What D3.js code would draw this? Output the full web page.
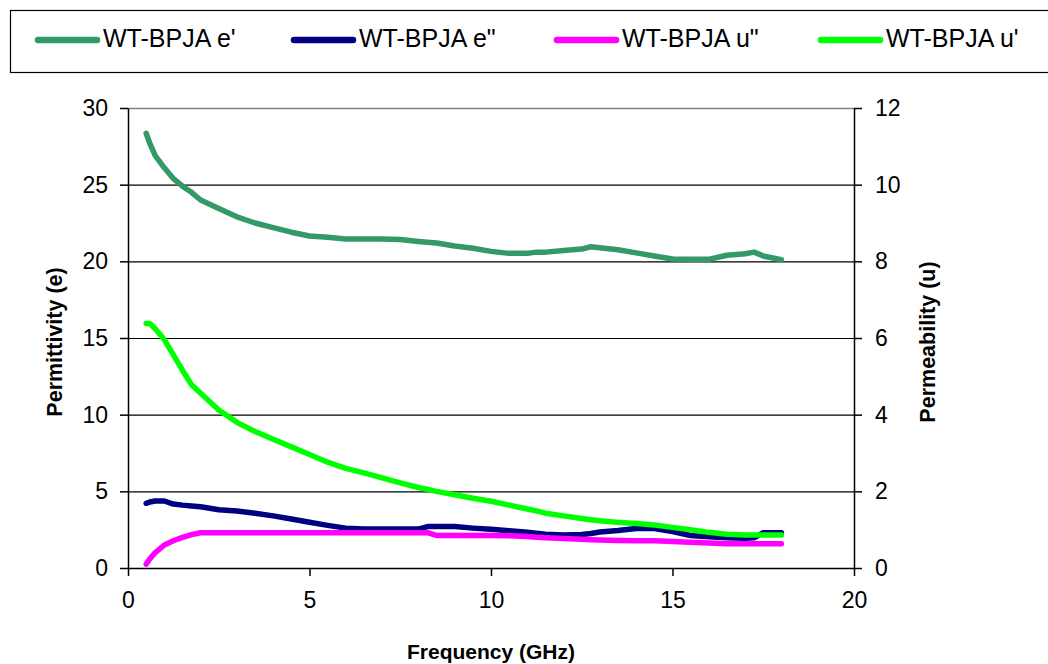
<!doctype html>
<html>
<head>
<meta charset="UTF-8">
<title>WT-BPJA permittivity and permeability</title>
<script src="https://cdn.jsdelivr.net/npm/d3@7"></script>
<style>
body { margin: 0; background: #fff; }
svg text { font-family: "Liberation Sans", Arial, sans-serif; fill: #000; }
</style>
</head>
<body>
<script>
// frequency in GHz
var freq = [0.5, 0.6, 0.75, 1.0, 1.25, 1.5, 1.75, 2.0, 2.5, 3.0, 3.5, 4.0, 4.5, 5.0, 5.5, 6.0,
  6.5, 7.0, 7.5, 8.0, 8.25, 8.5, 9.0, 9.5, 10.0, 10.5, 11.0, 11.25, 11.5, 12.0, 12.5, 12.75,
  13.0, 13.5, 14.0, 14.5, 15.0, 15.5, 16.0, 16.5, 17.0, 17.25, 17.5, 18.0];

// permittivity, left axis
var ePrime = [28.35, 27.7, 26.9, 26.1, 25.4, 24.9, 24.5, 24.0, 23.45, 22.9, 22.5, 22.2, 21.9, 21.65, 21.57, 21.46,
  21.46, 21.46, 21.42, 21.3, 21.25, 21.2, 21.0, 20.85, 20.65, 20.52, 20.52, 20.6, 20.6, 20.7, 20.8, 20.95,
  20.88, 20.75, 20.55, 20.35, 20.15, 20.13, 20.13, 20.4, 20.5, 20.6, 20.35, 20.1];
var eDouble = [4.22, 4.3, 4.37, 4.37, 4.17, 4.1, 4.05, 4.0, 3.8, 3.72, 3.57, 3.4, 3.2, 2.98, 2.78, 2.6,
  2.54, 2.54, 2.54, 2.54, 2.7, 2.7, 2.7, 2.6, 2.52, 2.43, 2.33, 2.27, 2.2, 2.15, 2.18, 2.25,
  2.35, 2.45, 2.58, 2.58, 2.38, 2.12, 2.03, 1.98, 1.94, 1.97, 2.3, 2.3];

// permeability, right axis
var uDouble = [0.10, 0.24, 0.40, 0.60, 0.71, 0.80, 0.87, 0.92, 0.92, 0.92, 0.92, 0.92, 0.92, 0.92, 0.92, 0.92,
  0.92, 0.92, 0.92, 0.92, 0.92, 0.85, 0.85, 0.85, 0.85, 0.84, 0.82, 0.80, 0.79, 0.77, 0.75, 0.74,
  0.73, 0.72, 0.71, 0.71, 0.69, 0.67, 0.65, 0.63, 0.63, 0.63, 0.63, 0.63];
var uPrime = [6.38, 6.38, 6.24, 5.96, 5.56, 5.16, 4.78, 4.56, 4.12, 3.80, 3.56, 3.36, 3.16, 2.96, 2.76, 2.60,
  2.48, 2.35, 2.22, 2.10, 2.05, 2.0, 1.91, 1.82, 1.74, 1.64, 1.54, 1.49, 1.43, 1.36, 1.29, 1.26,
  1.23, 1.19, 1.16, 1.12, 1.06, 1.0, 0.93, 0.88, 0.86, 0.86, 0.86, 0.86];

var xTicks = [0, 5, 10, 15, 20];
var leftTicks = [0, 5, 10, 15, 20, 25, 30];
var rightTicks = [0, 2, 4, 6, 8, 10, 12];

var series = [
  {name: "WT-BPJA e'", values: ePrime, axis: "left", color: "#339966"},
  {name: "WT-BPJA e\"", values: eDouble, axis: "left", color: "#000080"},
  {name: "WT-BPJA u\"", values: uDouble, axis: "right", color: "#ff00ff"},
  {name: "WT-BPJA u'", values: uPrime, axis: "right", color: "#00ff00"}
];

var w = 1048, h = 664;
var plot = {left: 128, right: 854, top: 108, bottom: 568};

var svg = d3.select("body").append("svg")
  .attr("width", w)
  .attr("height", h);

var x = d3.scaleLinear().domain([0, 20]).range([plot.left, plot.right]);
var yL = d3.scaleLinear().domain([0, 30]).range([plot.bottom, plot.top]);
var yR = d3.scaleLinear().domain([0, 12]).range([plot.bottom, plot.top]);

// gridlines
svg.append("g")
  .selectAll("line")
  .data(leftTicks.filter(function(d) { return d > 0 && d < 30; }))
  .enter().append("line")
  .attr("x1", plot.left).attr("x2", plot.right)
  .attr("y1", function(d) { return yL(d) + 0.5; })
  .attr("y2", function(d) { return yL(d) + 0.5; })
  .attr("stroke", "#000").attr("stroke-width", 1.2);

// top border of plot area
svg.append("line")
  .attr("x1", plot.left).attr("x2", plot.right)
  .attr("y1", plot.top + 0.5).attr("y2", plot.top + 0.5)
  .attr("stroke", "#808080").attr("stroke-width", 1.5);

// axes
var xAxis = d3.axisBottom(x).tickValues(xTicks).tickSizeInner(8).tickSizeOuter(0).tickPadding(8);
var leftAxis = d3.axisLeft(yL).tickValues(leftTicks).tickSizeInner(8).tickSizeOuter(0).tickPadding(12);
var rightAxis = d3.axisRight(yR).tickValues(rightTicks).tickSizeInner(8).tickSizeOuter(0).tickPadding(13);

var gx = svg.append("g").attr("transform", "translate(0," + plot.bottom + ")").call(xAxis);
var gl = svg.append("g").attr("transform", "translate(" + plot.left + ",0)").call(leftAxis);
var gr = svg.append("g").attr("transform", "translate(" + plot.right + ",0)").call(rightAxis);

[gx, gl, gr].forEach(function(g) {
  g.selectAll("path, line").attr("stroke", "#000").attr("stroke-width", 1.5);
  g.selectAll("text")
    .style("font-family", "'Liberation Sans', Arial, sans-serif")
    .style("font-size", "23px")
    .attr("fill", "#000");
});
gx.selectAll("text").attr("dy", "1.05em");

// lines
series.forEach(function(s) {
  var yScale = s.axis === "left" ? yL : yR;
  var line = d3.line()
    .x(function(d, i) { return x(freq[i]); })
    .y(function(d) { return yScale(d); });
  svg.append("path")
    .datum(s.values)
    .attr("d", line)
    .attr("fill", "none")
    .attr("stroke", s.color)
    .attr("stroke-width", 5.5)
    .attr("stroke-linejoin", "round")
    .attr("stroke-linecap", "round");
});

// axis titles
svg.append("text")
  .attr("transform", "translate(62," + ((plot.top + plot.bottom) / 2 + 4) + ") rotate(-90)")
  .attr("text-anchor", "middle")
  .style("font-size", "21.5px").style("font-weight", "bold")
  .text("Permittivity (e)");

svg.append("text")
  .attr("transform", "translate(935," + ((plot.top + plot.bottom) / 2 + 4) + ") rotate(-90)")
  .attr("text-anchor", "middle")
  .style("font-size", "21.5px").style("font-weight", "bold")
  .text("Permeability (u)");

svg.append("text")
  .attr("x", (plot.left + plot.right) / 2)
  .attr("y", 659)
  .attr("text-anchor", "middle")
  .style("font-size", "21px").style("font-weight", "bold")
  .text("Frequency (GHz)");

// legend
svg.append("rect")
  .attr("x", 10.5).attr("y", 10.5)
  .attr("width", 1060).attr("height", 62)
  .attr("fill", "#fff").attr("stroke", "#000").attr("stroke-width", 1.2);

var legendX = [38, 294, 557, 821];
var legend = svg.append("g").selectAll("g")
  .data(series)
  .enter().append("g")
  .attr("transform", function(d, i) { return "translate(" + legendX[i] + ",40)"; });

legend.append("line")
  .attr("x1", 0).attr("x2", 59)
  .attr("stroke", function(d) { return d.color; })
  .attr("stroke-width", 6.5)
  .attr("stroke-linecap", "round");

legend.append("text")
  .attr("x", 65)
  .attr("y", 6.5)
  .style("font-size", "25px")
  .text(function(d) { return d.name; });
</script>
</body>
</html>
